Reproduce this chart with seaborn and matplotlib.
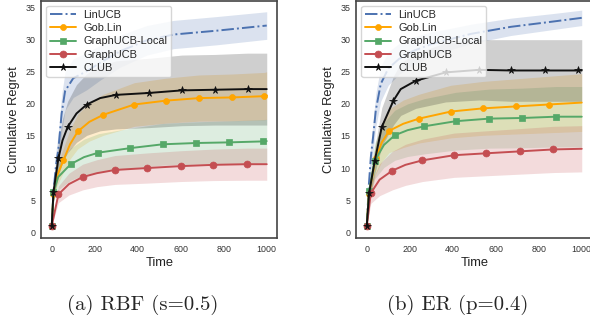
import numpy as np
import matplotlib
matplotlib.use('Agg')
import matplotlib.pyplot as plt
import seaborn as sns

sns.set_theme(style='white')
plt.rcParams['font.family'] = ['Liberation Sans', 'DejaVu Sans']

# ---- (a) RBF (s=0.5) ----
rbf_lin_t = [0, 10, 20, 31, 46, 62, 100, 163, 225, 318, 442, 566, 767, 1000]
rbf_lin_y = [1.0, 7.0, 10.5, 13.0, 18.5, 22.0, 24.0, 25.1, 26.4, 28.2, 29.9, 30.8, 31.4, 32.2]
rbf_lin_s = [0, 1.5, 2.2, 2.6, 2.9, 3.0, 3.0, 2.9, 2.7, 2.5, 2.3, 2.2, 2.2, 2.15]

rbf_gob_t = [0, 8, 25, 54, 85, 121, 175, 240, 384, 530, 685, 837, 989, 1000]
rbf_gob_y = [1.0, 6.0, 8.8, 11.2, 13.7, 15.7, 17.2, 18.3, 19.9, 20.5, 20.9, 21.0, 21.2, 21.3]
rbf_gob_s = [0, 0.9, 1.5, 1.9, 2.3, 2.7, 3.0, 3.2, 3.4, 3.5, 3.6, 3.65, 3.7, 3.7]
rbf_gob_m = [0, 1, 3, 5, 7, 8, 9, 10, 11, 12]

rbf_loc_t = [0, 8, 30, 88, 150, 217, 364, 516, 671, 825, 981, 1000]
rbf_loc_y = [1.0, 6.3, 8.6, 10.6, 11.7, 12.4, 13.1, 13.7, 13.9, 14.0, 14.15, 14.2]
rbf_loc_s = [0, 1.4, 2.0, 2.5, 2.8, 2.95, 3.1, 3.25, 3.3, 3.35, 3.4, 3.4]
rbf_loc_m = [0, 1, 3, 5, 6, 7, 8, 9, 10]

rbf_g_t = [0, 31, 80, 144, 210, 294, 442, 601, 752, 907, 1000]
rbf_g_y = [1.0, 5.9, 7.5, 8.6, 9.2, 9.7, 10.0, 10.3, 10.5, 10.6, 10.6]
rbf_g_s = [0, 1.3, 1.7, 2.0, 2.1, 2.25, 2.35, 2.4, 2.45, 2.5, 2.5]
rbf_g_m = [0, 1, 3, 5, 6, 7, 8, 9]

rbf_club_t = [0, 8, 31, 50, 74, 115, 163, 225, 299, 453, 605, 760, 911, 1000]
rbf_club_y = [1.0, 6.3, 11.5, 14.3, 16.4, 18.5, 19.9, 20.9, 21.4, 21.7, 22.1, 22.2, 22.3, 22.3]
rbf_club_s = [0, 1.4, 2.7, 3.4, 4.0, 4.5, 4.8, 5.1, 5.3, 5.4, 5.5, 5.5, 5.6, 5.6]
rbf_club_m = [0, 1, 2, 4, 6, 8, 9, 10, 11, 12]

# ---- (b) ER (p=0.4) ----
er_lin_t = [0, 10, 19, 30, 42, 65, 100, 150, 213, 300, 367, 484, 670, 861, 1000]
er_lin_y = [1.0, 7.5, 11.7, 15.0, 19.0, 23.1, 25.5, 27.0, 28.2, 29.3, 29.9, 30.9, 32.0, 32.8, 33.4]
er_lin_s = [0, 1.5, 2.0, 2.4, 2.6, 2.7, 2.6, 2.4, 2.2, 1.9, 1.7, 1.5, 1.35, 1.25, 1.2]

er_gob_t = [0, 10, 42, 70, 104, 170, 243, 391, 541, 693, 846, 1000]
er_gob_y = [1.0, 6.0, 11.5, 14.0, 15.8, 16.9, 17.7, 18.8, 19.3, 19.6, 19.9, 20.2]
er_gob_s = [0, 1.1, 2.4, 3.0, 3.4, 3.7, 3.8, 4.1, 4.2, 4.3, 4.4, 4.5]
er_gob_m = [0, 1, 2, 4, 6, 7, 8, 9, 10]

er_loc_t = [0, 11, 37, 80, 130, 190, 267, 414, 569, 724, 879, 1000]
er_loc_y = [1.0, 6.4, 11.1, 13.6, 15.1, 15.9, 16.5, 17.3, 17.7, 17.8, 18.0, 18.0]
er_loc_s = [0, 1.5, 2.8, 3.5, 3.9, 4.1, 4.3, 4.5, 4.6, 4.65, 4.7, 4.7]
er_loc_m = [0, 1, 2, 4, 6, 7, 8, 9, 10]

er_g_t = [0, 19, 60, 119, 180, 259, 406, 557, 713, 868, 1000]
er_g_y = [1.0, 6.1, 8.2, 9.6, 10.5, 11.2, 12.0, 12.3, 12.6, 12.9, 13.0]
er_g_s = [0, 1.6, 2.5, 3.0, 3.2, 3.3, 3.45, 3.5, 3.55, 3.6, 3.6]
er_g_m = [0, 1, 3, 5, 6, 7, 8, 9]

er_club_t = [0, 11, 37, 70, 124, 158, 228, 367, 522, 673, 829, 984, 1000]
er_club_y = [1.0, 6.1, 11.1, 16.4, 20.5, 22.3, 23.6, 24.9, 25.3, 25.2, 25.2, 25.2, 25.2]
er_club_s = [0, 1.0, 2.0, 3.0, 3.8, 4.1, 4.3, 4.6, 4.7, 4.8, 4.8, 4.8, 4.8]
er_club_m = [0, 1, 2, 3, 4, 6, 7, 8, 9, 10, 11]

labels = ['LinUCB', 'Gob.Lin', 'GraphUCB-Local', 'GraphUCB', 'CLUB']
colors = ['#4c72b0', '#ffa500', '#55a868', '#c44e52', '#111111']
styles = ['-.', '-', '-', '-', '-']
markers = [None, 'o', 's', 'o', '*']
msizes = [0, 4.3, 5.0, 5.0, 5.5]
captions = ['(a) RBF (s=0.5)', '(b) ER (p=0.4)']

panels = [
    [(rbf_lin_t, rbf_lin_y, rbf_lin_s, None),
     (rbf_gob_t, rbf_gob_y, rbf_gob_s, rbf_gob_m),
     (rbf_loc_t, rbf_loc_y, rbf_loc_s, rbf_loc_m),
     (rbf_g_t, rbf_g_y, rbf_g_s, rbf_g_m),
     (rbf_club_t, rbf_club_y, rbf_club_s, rbf_club_m)],
    [(er_lin_t, er_lin_y, er_lin_s, None),
     (er_gob_t, er_gob_y, er_gob_s, er_gob_m),
     (er_loc_t, er_loc_y, er_loc_s, er_loc_m),
     (er_g_t, er_g_y, er_g_s, er_g_m),
     (er_club_t, er_club_y, er_club_s, er_club_m)],
]

fig = plt.figure(figsize=(5.9, 3.24), dpi=100)
ax_pos = [[0.0695, 0.2654, 0.4008, 0.7330],
          [0.6034, 0.2654, 0.4008, 0.7330]]
cap_x = [0.2415, 0.7754]

for p, series in enumerate(panels):
    ax = fig.add_axes(ax_pos[p])
    for i, (t, y, s, m) in enumerate(series):
        t = np.array(t)
        y = np.array(y)
        s = np.array(s)
        ax.fill_between(t, y - s, y + s, color=colors[i], alpha=0.2, linewidth=0)
        kw = {}
        if markers[i] is not None:
            kw = dict(marker=markers[i], markevery=m, markersize=msizes[i],
                      markeredgecolor=colors[i], markeredgewidth=0.5)
        sns.lineplot(x=t, y=y, ax=ax, color=colors[i], linestyle=styles[i],
                     linewidth=1.4, label=labels[i], **kw)
    ax.set_xlim(-50, 1050)
    ax.set_ylim(-0.9, 36.1)
    ax.set_xticks([0, 200, 400, 600, 800, 1000])
    ax.set_yticks([0, 5, 10, 15, 20, 25, 30, 35])
    ax.tick_params(axis='both', labelsize=6.4, length=0, colors='#333333')
    ax.tick_params(axis='x', pad=5)
    ax.tick_params(axis='y', pad=4)
    ax.set_xlabel('Time', fontsize=9.3, labelpad=2.5, color='#222222')
    ax.set_ylabel('Cumulative Regret', fontsize=9.3, labelpad=4, color='#222222')
    for sp in ax.spines.values():
        sp.set_color('#444444')
        sp.set_linewidth(1.2)
    ax.legend(loc='upper left', fontsize=7.9, labelspacing=0.3, handlelength=2.3,
              handletextpad=0.7, borderpad=0.35, frameon=True, framealpha=0.8)
    fig.text(cap_x[p], 0.0586, captions[p], ha='center', va='center',
             family='cmr10', fontsize=15)

fig.savefig('out.png', dpi=100)
